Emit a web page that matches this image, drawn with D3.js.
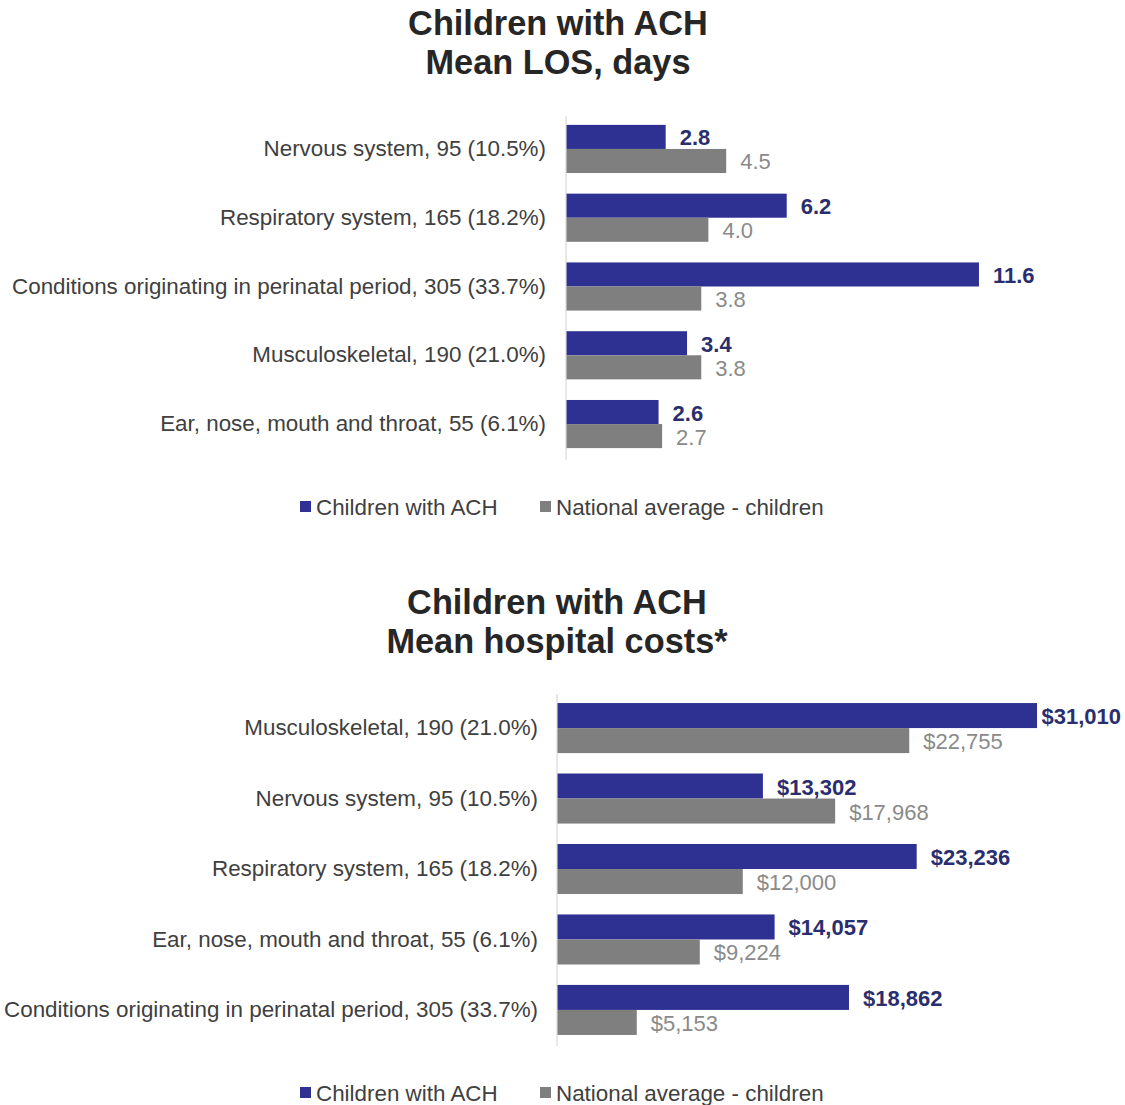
<!DOCTYPE html>
<html>
<head>
<meta charset="utf-8">
<script src="https://cdn.jsdelivr.net/npm/d3@7"></script>
<style>
  html, body { margin: 0; padding: 0; background: #ffffff; }
  svg { display: block; font-family: "Liberation Sans", Arial, sans-serif; }
</style>
</head>
<body>
<svg id="chart" width="1125" height="1105"></svg>
<script>
// Series names shared by both panels
const seriesNames = ["Children with ACH", "National average - children"];
const seriesColors = ["#2e3192", "#7f7f7f"];
const labelColors = ["#2a2e6e", "#8a8a8a"];

// Panel 1: mean length of stay (days)
const losCategories = [
  "Nervous system, 95 (10.5%)",
  "Respiratory system, 165 (18.2%)",
  "Conditions originating in perinatal period, 305 (33.7%)",
  "Musculoskeletal, 190 (21.0%)",
  "Ear, nose, mouth and throat, 55 (6.1%)"
];
const losAch = [2.8, 6.2, 11.6, 3.4, 2.6];
const losNational = [4.5, 4.0, 3.8, 3.8, 2.7];

// Panel 2: mean hospital costs (USD)
const costCategories = [
  "Musculoskeletal, 190 (21.0%)",
  "Nervous system, 95 (10.5%)",
  "Respiratory system, 165 (18.2%)",
  "Ear, nose, mouth and throat, 55 (6.1%)",
  "Conditions originating in perinatal period, 305 (33.7%)"
];
const costAch = [31010, 13302, 23236, 14057, 18862];
const costNational = [22755, 17968, 12000, 9224, 5153];

const W = 1125;
const svg = d3.select("#chart");

function drawPanel(cfg) {
  const g = svg.append("g");

  // Two-line bold title
  g.selectAll("text.title")
    .data(cfg.title)
    .join("text")
    .attr("class", "title")
    .attr("x", cfg.titleX)
    .attr("y", (d, i) => cfg.titleY + i * cfg.titleGap)
    .attr("text-anchor", "middle")
    .attr("font-size", 34.3)
    .attr("font-weight", "bold")
    .attr("fill", "#262626")
    .text(d => d);

  const y = d3.scaleBand()
    .domain(cfg.categories)
    .range(cfg.yRange)
    .paddingInner(cfg.padInner)
    .paddingOuter(cfg.padOuter);

  const inner = d3.scaleBand()
    .domain(d3.range(seriesNames.length))
    .range([0, y.bandwidth()]);

  const x = d3.scaleLinear()
    .domain(cfg.xDomain)
    .range(cfg.xRange);

  const rows = cfg.categories.map((c, i) => ({
    cat: c,
    vals: [cfg.ach[i], cfg.national[i]]
  }));

  const groups = g.selectAll("g.row")
    .data(rows)
    .join("g")
    .attr("class", "row")
    .attr("transform", d => `translate(0,${y(d.cat)})`);

  groups.selectAll("rect")
    .data(d => d.vals.map((v, s) => ({ v, s })))
    .join("rect")
    .attr("x", x(0))
    .attr("y", d => inner(d.s))
    .attr("width", d => x(d.v) - x(0))
    .attr("height", inner.bandwidth())
    .attr("fill", d => seriesColors[d.s]);

  groups.selectAll("text.val")
    .data(d => d.vals.map((v, s) => ({ v, s })))
    .join("text")
    .attr("class", "val")
    .attr("x", d => x(d.v) + 14)
    .attr("y", d => inner(d.s) + inner.bandwidth() / 2 + 1)
    .attr("dominant-baseline", "central")
    .attr("font-size", 22)
    .attr("font-weight", d => d.s === 0 ? "bold" : "normal")
    .attr("fill", d => labelColors[d.s])
    .text(d => cfg.fmt(d.v))
    .each(function () {
      // keep labels inside the drawing width
      const len = this.getComputedTextLength();
      const xx = +this.getAttribute("x");
      if (xx + len > W - 4) this.setAttribute("x", W - 4 - len);
    });

  // Category axis on the left
  const axis = d3.axisLeft(y).tickSize(0).tickPadding(cfg.tickPad);
  const ax = g.append("g")
    .attr("transform", `translate(${x(0)},0)`)
    .call(axis);
  ax.select(".domain")
    .attr("stroke", "#d9d9d9")
    .attr("stroke-width", 1.2)
    .attr("d", `M0,${cfg.axisSpan[0]}V${cfg.axisSpan[1]}`);
  ax.selectAll(".tick text")
    .attr("font-size", 22.4)
    .attr("font-family", "'Liberation Sans', Arial, sans-serif")
    .attr("fill", "#404040");

  // Legend
  const leg = g.append("g")
    .attr("transform", `translate(0,${cfg.legendY})`);
  const items = leg.selectAll("g")
    .data(seriesNames)
    .join("g")
    .attr("transform", (d, i) => `translate(${cfg.legendX[i]},0)`);
  items.append("rect")
    .attr("x", 0)
    .attr("y", -5)
    .attr("width", 11)
    .attr("height", 11)
    .attr("fill", (d, i) => seriesColors[i]);
  items.append("text")
    .attr("x", 16)
    .attr("y", 1)
    .attr("dominant-baseline", "central")
    .attr("font-size", 22.4)
    .attr("fill", "#404040")
    .text(d => d);
}

drawPanel({
  title: ["Children with ACH", "Mean LOS, days"],
  titleX: 558, titleY: 35, titleGap: 39,
  categories: losCategories,
  ach: losAch, national: losNational,
  yRange: [118, 455], padInner: 0.3, padOuter: 0.1,
  xDomain: [0, 12], xRange: [566, 566 + 35.6 * 12],
  axisSpan: [116, 460],
  tickPad: 20,
  fmt: d3.format(".1f"),
  legendY: 506, legendX: [300, 540]
});

drawPanel({
  title: ["Children with ACH", "Mean hospital costs*"],
  titleX: 557, titleY: 614, titleGap: 39,
  categories: costCategories,
  ach: costAch, national: costNational,
  yRange: [696, 1042], padInner: 0.29, padOuter: 0.1,
  xDomain: [0, 32000], xRange: [557, 557 + 0.01548 * 32000],
  axisSpan: [694, 1046],
  tickPad: 19,
  fmt: d => "$" + d3.format(",")(d),
  legendY: 1092, legendX: [300, 540]
});
</script>
</body>
</html>
